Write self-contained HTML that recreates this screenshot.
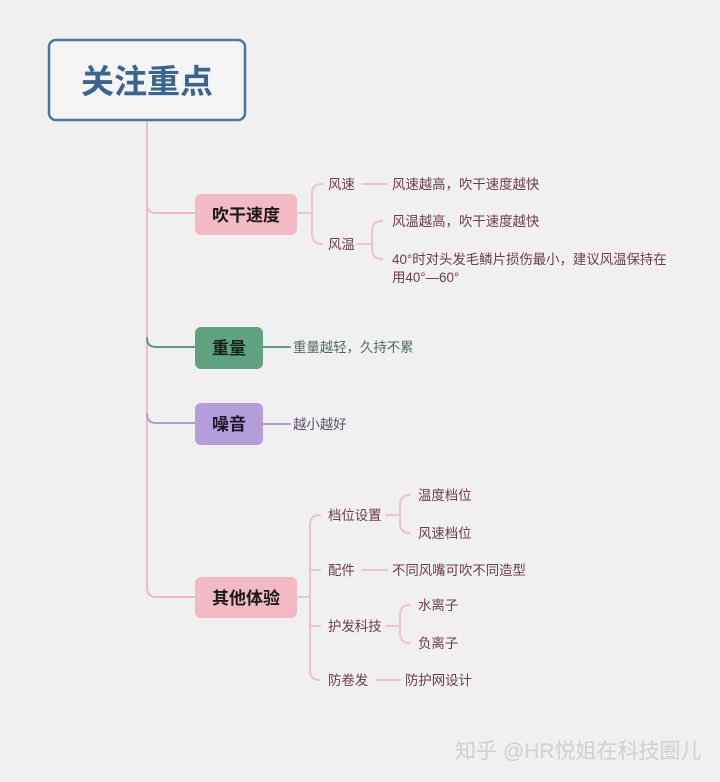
<!DOCTYPE html>
<html><head><meta charset="utf-8"><style>
html,body{margin:0;padding:0;background:#f0f0f0;}
svg{display:block;font-family:"Liberation Sans","Noto Sans CJK SC",sans-serif;}
</style></head><body>
<svg width="720" height="782" viewBox="0 0 720 782" xmlns="http://www.w3.org/2000/svg">
<rect width="720" height="782" fill="#f0f0f0"/>
<g fill="none" stroke-width="2" stroke-linecap="round">
<path d="M147 121 V588 Q147 597 156 597 H196" stroke="#efbac7"/>
<path d="M147 204 Q147 213 156 213 H196" stroke="#efbac7"/>
<path d="M147 338 Q147 347 156 347 H196" stroke="#5e9d7c"/>
<path d="M147 414 Q147 423 156 423 H196" stroke="#b39ad8"/>
<path d="M297 213 H312 M322 184 Q312 184 312 194 V234 Q312 244 322 244" stroke="#efc3cc"/>
<path d="M362 184 H387" stroke="#efc3cc"/>
<path d="M358 244 H372 M382 221 Q372 221 372 231 V249 Q372 259 382 259" stroke="#efc3cc"/>
<path d="M263 347 H290" stroke="#5e9d7c"/>
<path d="M263 424 H290" stroke="#b39ad8"/>
<path d="M297 597 H310 M320 515 Q310 515 310 525 V670 Q310 680 320 680 M310 570 H320 M310 626 H320" stroke="#efc3cc"/>
<path d="M386 515 H400 M410 495 Q400 495 400 505 V523 Q400 533 410 533" stroke="#efc3cc"/>
<path d="M362 570 H387" stroke="#efc3cc"/>
<path d="M386 626 H400 M410 605 Q400 605 400 615 V633 Q400 643 410 643" stroke="#efc3cc"/>
<path d="M376 680 H400" stroke="#efc3cc"/>
</g>
<rect x="49" y="40" width="196" height="80" rx="7" fill="#f5f5f5" stroke="#4b76a0" stroke-width="2.5"/>
<text x="147" y="93" text-anchor="middle" font-size="33" font-weight="bold" fill="#3a6591">关注重点</text>
<rect x="195" y="194" width="102" height="41" rx="6" fill="#f3b9c5"/>
<text x="246" y="221" text-anchor="middle" font-size="17" font-weight="bold" fill="#1a1a1a">吹干速度</text>
<rect x="195" y="327" width="68" height="42" rx="6" fill="#5fa27f"/>
<text x="229" y="354" text-anchor="middle" font-size="17" font-weight="bold" fill="#14241a">重量</text>
<rect x="195" y="403" width="68" height="42" rx="6" fill="#b39ddb"/>
<text x="229" y="430" text-anchor="middle" font-size="17" font-weight="bold" fill="#1a1424">噪音</text>
<rect x="195" y="577" width="102" height="41" rx="6" fill="#f3b9c5"/>
<text x="246" y="604" text-anchor="middle" font-size="17" font-weight="bold" fill="#1a1a1a">其他体验</text>
<g font-size="13.4" fill="#6a3d48">
<text x="328" y="189">风速</text>
<text x="392" y="189">风速越高，吹干速度越快</text>
<text x="328" y="249">风温</text>
<text x="392" y="226">风温越高，吹干速度越快</text>
<text x="392" y="264">40°时对头发毛鳞片损伤最小，建议风温保持在</text>
<text x="392" y="282">用40°—60°</text>
<text x="293" y="352" fill="#4e6a5c">重量越轻，久持不累</text>
<text x="293" y="429" fill="#5a4e6e">越小越好</text>
<text x="328" y="520">档位设置</text>
<text x="418" y="500">温度档位</text>
<text x="418" y="538">风速档位</text>
<text x="328" y="575">配件</text>
<text x="392" y="575">不同风嘴可吹不同造型</text>
<text x="328" y="631">护发科技</text>
<text x="418" y="610">水离子</text>
<text x="418" y="648">负离子</text>
<text x="328" y="685">防卷发</text>
<text x="405" y="685">防护网设计</text>
</g>
<text x="455" y="758" font-size="21" fill="#d0d0d0">知乎 @HR悦姐在科技圈儿</text>
</svg>
</body></html>
